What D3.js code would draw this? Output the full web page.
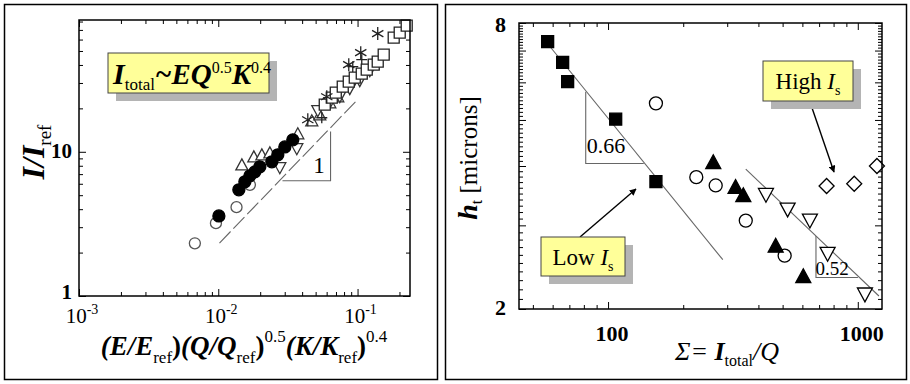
<!DOCTYPE html>
<html>
<head>
<meta charset="utf-8">
<script src="https://cdn.jsdelivr.net/npm/d3@7"></script>
<style>
body { margin: 0; background: #fff; }
</style>
</head>
<body>
<div id="chart"></div>
<script>
// ---------- left panel data : I/Iref vs (E/Eref)(Q/Qref)^0.5(K/Kref)^0.4 ----------
var leftOpenCircles = [[0.00679, 2.32], [0.00962, 3.2], [0.01352, 4.13], [0.01687, 5.9]];
var leftFilledCircles = [[0.0101, 3.59], [0.01405, 5.45], [0.01552, 6.19], [0.01686, 6.81], [0.01831, 7.26],
    [0.01988, 7.87], [0.02424, 8.52], [0.02676, 9.53], [0.03004, 10.8], [0.03428, 12.1]];
var leftTriUp = [[0.01477, 7.99], [0.0180, 9.08], [0.02055, 9.38], [0.02346, 9.68], [0.03724, 13.13],
    [0.04692, 16.16], [0.05356, 17.78], [0.06319, 21.54], [0.07211, 23.71]];
var leftTriDown = [[0.02766, 7.87], [0.03663, 10.66], [0.05183, 19.57], [0.06319, 22.24], [0.07452, 24.48],
    [0.0879, 27.83], [0.1037, 31.62], [0.1224, 37.1]];
var leftAsterisks = [[0.04393, 16.68], [0.06012, 24.09], [0.08648, 40.2], [0.1054, 48.7], [0.1396, 65.97]];
var leftSquares = [[0.05815, 21.2], [0.0653, 23.71], [0.06976, 25.69], [0.0783, 28.28], [0.08648, 30.63],
    [0.09548, 32.66], [0.1072, 34.8], [0.1164, 37.1], [0.1307, 40.2], [0.1396, 42.17], [0.1541, 47.17],
    [0.1818, 61.9], [0.2008, 67.05], [0.2254, 74.99]];
var leftPlus = [[0.05535, 17.22], [0.07452, 26.95], [0.09238, 38.93], [0.1072, 43.53]];
var leftFitLine = [[0.0102, 2.33], [0.1, 23]];
var leftSlopeTri = [[0.0289, 6.3], [0.064, 6.3], [0.064, 13.8]];
var leftXTicks = [0.001, 0.01, 0.1];
var leftXTickExp = ["-3", "-2", "-1"];
var leftYTicks = [1, 10];

// ---------- right panel data : ht [microns] vs Sigma = Itotal/Q ----------
var rightFilledSquares = [[57.3, 7.31], [65.8, 6.61], [68.9, 6.02], [107.3, 5.02], [155.5, 3.71]];
var rightOpenCircles = [[155.5, 5.42], [225.6, 3.79], [269.8, 3.64], [356, 3.07], [509.5, 2.59]];
var rightFilledTriUp = [[263.8, 4.05], [324, 3.59], [348, 3.45], [469, 2.70], [605, 2.33]];
var rightOpenTriDown = [[428.8, 3.50], [523.6, 3.26], [643, 3.09], [757, 2.63], [1068, 2.16]];
var rightOpenDiamonds = [[750, 3.63], [967.6, 3.67], [1193, 4.0]];
var rightFitLow = [[57, 7.26], [288, 2.54]];
var rightTriLow = [[81.4, 5.73], [81.4, 4.05], [139, 4.05]];
var rightFitHigh = [[356, 3.94], [1215, 2.13]];
var rightTriHigh = [[680, 2.85], [680, 2.33], [1001, 2.33]];
var rightXTicks = [100, 1000];
var rightYTicks = [2, 8];

var svgWidth = 910;
var svgHeight = 384;

var svg = d3.select("#chart")
    .append("svg")
    .attr("width", svgWidth)
    .attr("height", svgHeight)
    .style("font-family", "'Liberation Serif', 'Times New Roman', serif");

// arrow head
svg.append("defs").append("marker")
    .attr("id", "arrow")
    .attr("viewBox", "0 0 10 10")
    .attr("refX", 9).attr("refY", 5)
    .attr("markerWidth", 7).attr("markerHeight", 7)
    .attr("markerUnits", "userSpaceOnUse")
    .attr("orient", "auto")
    .append("path")
    .attr("d", "M0,0 L10,5 L0,10 Z")
    .attr("fill", "#000");

// outer frames of both panels
svg.append("rect").attr("x", 4.5).attr("y", 4.5).attr("width", 433).attr("height", 375)
    .attr("fill", "none").attr("stroke", "#000").attr("stroke-width", 1.5);
svg.append("rect").attr("x", 445.5).attr("y", 4.5).attr("width", 461).attr("height", 375)
    .attr("fill", "none").attr("stroke", "#000").attr("stroke-width", 1.5);

//marker shapes
function symbolPath(type, s) {
    var h = s / 2;
    if (type === "circle") {
        return "M" + (-h) + ",0A" + h + "," + h + " 0 1,0 " + h + ",0A" + h + "," + h + " 0 1,0 " + (-h) + ",0Z";
    }
    if (type === "square") {
        return "M" + (-h) + "," + (-h) + "H" + h + "V" + h + "H" + (-h) + "Z";
    }
    if (type === "triUp") {
        return "M0," + (-0.58 * s) + "L" + h + "," + (0.34 * s) + "L" + (-h) + "," + (0.34 * s) + "Z";
    }
    if (type === "triDown") {
        return "M0," + (0.58 * s) + "L" + h + "," + (-0.34 * s) + "L" + (-h) + "," + (-0.34 * s) + "Z";
    }
    if (type === "diamond") {
        return "M0," + (-h) + "L" + h + ",0L0," + h + "L" + (-h) + ",0Z";
    }
    if (type === "asterisk") {
        var a = h * 0.87, b = h * 0.5;
        return "M0," + (-h) + "V" + h + "M" + (-a) + "," + (-b) + "L" + a + "," + b + "M" + (-a) + "," + b + "L" + a + "," + (-b);
    }
    // plus
    return "M" + (-h) + ",0H" + h + "M0," + (-h) + "V" + h;
}

function drawSeries(g, data, xs, ys, type, size, fill, stroke) {
    g.append("g").selectAll("path")
        .data(data)
        .enter()
        .append("path")
        .attr("transform", d => `translate(${xs(d[0])},${ys(d[1])})`)
        .attr("d", symbolPath(type, size))
        .attr("fill", fill)
        .attr("stroke", stroke)
        .attr("stroke-width", 1.3);
}

function drawLine(g, data, xs, ys, dash) {
    g.append("path")
        .datum(data)
        .attr("d", d3.line().x(d => xs(d[0])).y(d => ys(d[1])))
        .attr("fill", "none")
        .attr("stroke", "#666")
        .attr("stroke-width", 1.1)
        .attr("stroke-dasharray", dash);
}

// inward ticks on all four sides
function drawTicks(g, xs, ys, xMajor, xMinor, yMajor, yMinor) {
    var r = xs.range(), d = ys.range();
    var sets = [
        [d3.axisBottom, xs, xMajor, xMinor, `translate(0,${d[0]})`],
        [d3.axisTop, xs, xMajor, xMinor, `translate(0,${d[1]})`],
        [d3.axisLeft, ys, yMajor, yMinor, `translate(${r[0]},0)`],
        [d3.axisRight, ys, yMajor, yMinor, `translate(${r[1]},0)`]
    ];
    sets.forEach(function(s) {
        [[s[2], 7], [s[3], 4]].forEach(function(t) {
            var ax = g.append("g")
                .attr("transform", s[4])
                .call(s[0](s[1]).tickValues(t[0]).tickSize(-t[1]).tickFormat(""));
            ax.select(".domain").remove();
            ax.selectAll("line").attr("stroke", "#000").attr("stroke-width", 1);
        });
    });
}

function decadeMinors(lo, hi, extent) {
    var out = [];
    for (var p = lo; p <= hi; p *= 10) {
        for (var k = 2; k <= 9; k++) {
            var v = k * p;
            if (v > extent[0] && v < extent[1]) out.push(v);
        }
    }
    return out;
}

function labelBox(g, x, y, w, h) {
    g.append("rect").attr("x", x + 8).attr("y", y + 8).attr("width", w).attr("height", h)
        .attr("fill", "#b4b4b4");
    g.append("rect").attr("x", x).attr("y", y).attr("width", w).attr("height", h)
        .attr("fill", "#ffff99").attr("stroke", "#444").attr("stroke-width", 1);
}

// rich text: parts are [text, size, style, shift] where shift is baseline offset
function richText(textSel, parts) {
    var cur = 0;
    parts.forEach(function(p) {
        var ts = textSel.append("tspan")
            .attr("font-size", p[1])
            .attr("dy", p[3] - cur)
            .text(p[0]);
        if (p[2].indexOf("b") >= 0) ts.attr("font-weight", "bold");
        if (p[2].indexOf("i") >= 0) ts.attr("font-style", "italic");
        cur = p[3];
    });
}

//////////////////////////////////////////////////////
// LEFT PANEL
var leftG = svg.append("g");
var xLeft = d3.scaleLog().domain([0.001, 0.238]).range([79, 410]);
var yLeft = d3.scaleLog().domain([1, 82]).range([296, 20]);

drawTicks(leftG, xLeft, yLeft, leftXTicks, decadeMinors(0.001, 0.1, xLeft.domain()),
    leftYTicks, decadeMinors(1, 10, yLeft.domain()));

// formula box
labelBox(leftG, 108, 53, 161, 40);
richText(leftG.append("text").attr("x", 113).attr("y", 84), [
    ["I", 30, "bi", 0], ["total", 17, "", 6], ["~EQ", 29, "bi", 0], ["0.5", 16, "", -11],
    ["K", 29, "bi", 0], ["0.4", 16, "", -11]
]);

drawLine(leftG, leftFitLine, xLeft, yLeft, "16,4");
drawLine(leftG, leftSlopeTri, xLeft, yLeft, null);
leftG.append("text").attr("x", 319).attr("y", 173).attr("font-size", 23)
    .attr("text-anchor", "middle").text("1");

drawSeries(leftG, leftOpenCircles, xLeft, yLeft, "circle", 11, "#fff", "#555");
drawSeries(leftG, leftTriUp, xLeft, yLeft, "triUp", 12, "#fff", "#333");
drawSeries(leftG, leftTriDown, xLeft, yLeft, "triDown", 12, "#fff", "#333");
drawSeries(leftG, leftFilledCircles, xLeft, yLeft, "circle", 12, "#000", "#000");
drawSeries(leftG, leftPlus, xLeft, yLeft, "plus", 11, "none", "#222");
drawSeries(leftG, leftSquares, xLeft, yLeft, "square", 11, "#fff", "#222");
drawSeries(leftG, leftAsterisks, xLeft, yLeft, "asterisk", 13, "none", "#222");

leftG.append("rect").attr("x", 79).attr("y", 20).attr("width", 331).attr("height", 276)
    .attr("fill", "none").attr("stroke", "#000").attr("stroke-width", 1.5);

// tick labels
leftXTicks.forEach(function(v, i) {
    var t = leftG.append("text").attr("x", xLeft(v) + 3).attr("y", 323)
        .attr("text-anchor", "middle");
    richText(t, [["10", 21, "", 0], [leftXTickExp[i], 14, "", -9]]);
});
leftYTicks.forEach(function(v) {
    leftG.append("text").attr("x", 72).attr("y", yLeft(v) + (v === 1 ? 3 : 6)).attr("text-anchor", "end")
        .attr("font-size", 21).attr("font-weight", "bold").text(v);
});

// axis labels
var yLabL = leftG.append("text").attr("transform", "translate(44,152) rotate(-90)")
    .attr("text-anchor", "middle");
richText(yLabL, [["I/I", 32, "bi", 0], ["ref", 19, "", 7]]);

var xLabL = leftG.append("text").attr("x", 244).attr("y", 355).attr("text-anchor", "middle");
richText(xLabL, [
    ["(E/E", 27, "bi", 0], ["ref", 17, "", 8], [")", 27, "b", 0],
    ["(Q/Q", 27, "bi", 0], ["ref", 17, "", 8], [")", 27, "b", 0], ["0.5", 17, "", -13],
    ["(K/K", 27, "bi", 0], ["ref", 17, "", 8], [")", 27, "b", 0], ["0.4", 17, "", -13]
]);

//////////////////////////////////////////////////////
// RIGHT PANEL
var rightG = svg.append("g");
var xRight = d3.scaleLog().domain([44, 1250]).range([519, 882]);
var yRight = d3.scaleLog().domain([2, 8]).range([309, 23]);

var yFine = d3.range(21, 80).map(v => v / 10).filter(v => v % 1 !== 0);
drawTicks(rightG, xRight, yRight, rightXTicks, decadeMinors(10, 100, xRight.domain()),
    [2, 3, 4, 5, 6, 7, 8], yFine);

drawLine(rightG, rightFitLow, xRight, yRight, null);
drawLine(rightG, rightTriLow, xRight, yRight, null);
drawLine(rightG, rightFitHigh, xRight, yRight, null);
drawLine(rightG, rightTriHigh, xRight, yRight, null);
rightG.append("text").attr("x", 606).attr("y", 153).attr("font-size", 22)
    .attr("text-anchor", "middle").text("0.66");
rightG.append("text").attr("x", 832).attr("y", 275).attr("font-size", 19)
    .attr("text-anchor", "middle").text("0.52");

drawSeries(rightG, rightFilledSquares, xRight, yRight, "square", 12, "#000", "#000");
drawSeries(rightG, rightOpenCircles, xRight, yRight, "circle", 13, "#fff", "#000");
drawSeries(rightG, rightFilledTriUp, xRight, yRight, "triUp", 15, "#000", "#000");
drawSeries(rightG, rightOpenTriDown, xRight, yRight, "triDown", 15, "#fff", "#000");
drawSeries(rightG, rightOpenDiamonds, xRight, yRight, "diamond", 15, "#fff", "#000");

rightG.append("rect").attr("x", 519).attr("y", 23).attr("width", 363).attr("height", 286)
    .attr("fill", "none").attr("stroke", "#000").attr("stroke-width", 1.5);

// annotations
function annot(x, y, w, h, word, ax0, ay0, ax1, ay1) {
    rightG.append("line").attr("x1", ax0).attr("y1", ay0).attr("x2", ax1).attr("y2", ay1)
        .attr("stroke", "#000").attr("stroke-width", 1.4).attr("marker-end", "url(#arrow)");
    labelBox(rightG, x, y, w, h);
    var t = rightG.append("text").attr("x", x + w / 2).attr("y", y + h / 2 + 8)
        .attr("text-anchor", "middle");
    richText(t, [[word + " ", 23, "", 0], ["I", 23, "i", 0], ["s", 14, "", 6]]);
}
annot(763, 61, 90, 40, "High", 810, 102, 834, 172);
annot(541, 237, 84, 39, "Low", 580, 237, 636, 189);

// tick labels
rightXTicks.forEach(function(v) {
    rightG.append("text").attr("x", xRight(v) + 4).attr("y", 341).attr("text-anchor", "middle")
        .attr("font-size", 22).attr("font-weight", "bold").text(v);
});
rightYTicks.forEach(function(v) {
    rightG.append("text").attr("x", 506).attr("y", yRight(v) + (v === 8 ? 9 : 6)).attr("text-anchor", "end")
        .attr("font-size", 22).attr("font-weight", "bold").text(v);
});

var yLabR = rightG.append("text").attr("transform", "translate(477,158) rotate(-90)")
    .attr("text-anchor", "middle");
richText(yLabR, [["h", 28, "bi", 0], ["t", 16, "", 5], [" [microns]", 25, "", 0]]);

var xLabR = rightG.append("text").attr("x", 727).attr("y", 360).attr("text-anchor", "middle");
richText(xLabR, [["Σ= ", 26, "i", 0], ["I", 26, "bi", 0], ["total", 16, "", 6], ["/Q", 26, "i", 0]]);
</script>
</body>
</html>
